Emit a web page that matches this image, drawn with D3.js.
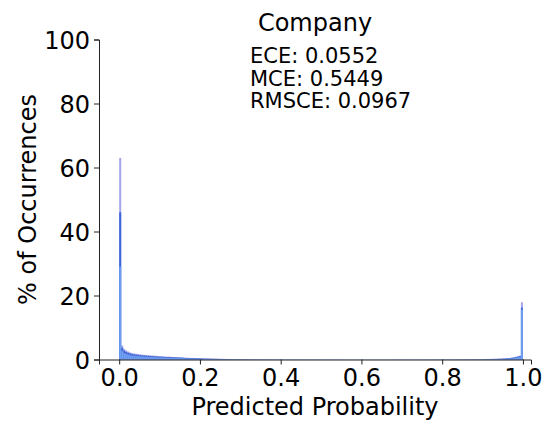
<!DOCTYPE html>
<html>
<head>
<meta charset="utf-8">
<script src="https://cdn.jsdelivr.net/npm/d3@7"></script>
<style>
  body { margin: 0; background: #fff; }
  svg { font-family: "DejaVu Sans", sans-serif; }
</style>
</head>
<body>
<div id="chart"></div>
<script>
const width = 552, height = 423;

// histogram of predicted probabilities, 200 bins of width 0.005 (% of occurrences)
const binWidth = 0.005;
const allCounts = [
  63, 4.4, 3.3, 2.8, 2.5, 2.2, 2.0, 1.9, 1.8, 1.7,
  1.6, 1.5, 1.45, 1.4, 1.35, 1.3, 1.25, 1.2, 1.15, 1.1,
  1.05, 1.0, 0.95, 0.9, 0.9, 0.85, 0.8, 0.8, 0.75, 0.7,
  0.7, 0.65, 0.6, 0.55, 0.55, 0.5, 0.5, 0.45, 0.45, 0.4,
  0.35, 0.35, 0.3, 0.3, 0.3, 0.28, 0.26, 0.25, 0.24, 0.22,
  0.2, 0.2, 0.19, 0.18, 0.17, 0.16, 0.16, 0.15, 0.14, 0.14,
  0.13, 0.13, 0.12, 0.12, 0.12, 0.11, 0.11, 0.1, 0.1, 0.1,
  0.1, 0.1, 0.09, 0.09, 0.09, 0.09, 0.08, 0.08, 0.08, 0.08,
  0.08, 0.08, 0.07, 0.07, 0.07, 0.07, 0.07, 0.07, 0.07, 0.07,
  0.07, 0.06, 0.06, 0.06, 0.06, 0.06, 0.06, 0.06, 0.06, 0.06,
  0.06, 0.06, 0.06, 0.05, 0.05, 0.05, 0.05, 0.05, 0.05, 0.05,
  0.05, 0.05, 0.05, 0.05, 0.05, 0.05, 0.05, 0.05, 0.05, 0.05,
  0.05, 0.05, 0.05, 0.05, 0.05, 0.05, 0.05, 0.05, 0.05, 0.05,
  0.05, 0.05, 0.05, 0.05, 0.05, 0.06, 0.06, 0.06, 0.06, 0.06,
  0.06, 0.06, 0.06, 0.06, 0.06, 0.06, 0.06, 0.06, 0.06, 0.06,
  0.06, 0.06, 0.07, 0.07, 0.07, 0.07, 0.07, 0.07, 0.07, 0.07,
  0.08, 0.08, 0.08, 0.08, 0.08, 0.08, 0.09, 0.09, 0.09, 0.09,
  0.1, 0.1, 0.1, 0.11, 0.11, 0.12, 0.12, 0.13, 0.13, 0.14,
  0.15, 0.16, 0.17, 0.18, 0.19, 0.2, 0.22, 0.24, 0.26, 0.28,
  0.32, 0.36, 0.42, 0.5, 0.6, 0.7, 0.85, 1.0, 1.2, 17.9
];
const darkCounts = [
  46, 3.7, 2.8, 2.4, 2.1, 1.9, 1.7, 1.6, 1.5, 1.45,
  1.35, 1.3, 1.25, 1.2, 1.15, 1.1, 1.05, 1.0, 0.98, 0.94,
  0.9, 0.85, 0.8, 0.78, 0.76, 0.72, 0.7, 0.68, 0.64, 0.6,
  0.6, 0.55, 0.5, 0.48, 0.46, 0.43, 0.42, 0.39, 0.38, 0.34,
  0.3, 0.3, 0.26, 0.26, 0.25, 0.24, 0.22, 0.21, 0.2, 0.19,
  0.17, 0.17, 0.16, 0.15, 0.14, 0.14, 0.13, 0.13, 0.12, 0.12,
  0.11, 0.11, 0.1, 0.1, 0.1, 0.09, 0.09, 0.09, 0.08, 0.08,
  0.08, 0.08, 0.08, 0.07, 0.07, 0.07, 0.07, 0.07, 0.07, 0.07,
  0.06, 0.06, 0.06, 0.06, 0.06, 0.06, 0.06, 0.06, 0.06, 0.06,
  0.06, 0.05, 0.05, 0.05, 0.05, 0.05, 0.05, 0.05, 0.05, 0.05,
  0.05, 0.05, 0.05, 0.05, 0.05, 0.05, 0.05, 0.05, 0.05, 0.05,
  0.04, 0.04, 0.04, 0.04, 0.04, 0.04, 0.04, 0.04, 0.04, 0.04,
  0.04, 0.04, 0.04, 0.04, 0.04, 0.04, 0.04, 0.04, 0.04, 0.04,
  0.04, 0.04, 0.04, 0.04, 0.04, 0.05, 0.05, 0.05, 0.05, 0.05,
  0.05, 0.05, 0.05, 0.05, 0.05, 0.05, 0.05, 0.05, 0.05, 0.05,
  0.05, 0.05, 0.06, 0.06, 0.06, 0.06, 0.06, 0.06, 0.06, 0.06,
  0.07, 0.07, 0.07, 0.07, 0.07, 0.07, 0.08, 0.08, 0.08, 0.08,
  0.09, 0.09, 0.09, 0.1, 0.1, 0.1, 0.1, 0.11, 0.11, 0.12,
  0.13, 0.14, 0.15, 0.16, 0.17, 0.18, 0.19, 0.21, 0.23, 0.25,
  0.28, 0.32, 0.37, 0.44, 0.52, 0.62, 0.75, 0.9, 1.1, 16.2
];
const lightCounts = [
  29, 2.6, 2.0, 1.7, 1.5, 1.3, 1.2, 1.1, 1.05, 1.0,
  0.95, 0.9, 0.88, 0.84, 0.8, 0.77, 0.74, 0.7, 0.68, 0.66,
  0.63, 0.6, 0.57, 0.55, 0.53, 0.5, 0.49, 0.47, 0.45, 0.42,
  0.42, 0.39, 0.36, 0.34, 0.32, 0.3, 0.29, 0.27, 0.26, 0.24,
  0.21, 0.21, 0.18, 0.18, 0.17, 0.16, 0.15, 0.15, 0.14, 0.13,
  0.12, 0.12, 0.11, 0.1, 0.1, 0.1, 0.09, 0.09, 0.08, 0.08,
  0.08, 0.08, 0.07, 0.07, 0.07, 0.06, 0.06, 0.06, 0.06, 0.06,
  0.06, 0.06, 0.06, 0.05, 0.05, 0.05, 0.05, 0.05, 0.05, 0.05,
  0.04, 0.04, 0.04, 0.04, 0.04, 0.04, 0.04, 0.04, 0.04, 0.04,
  0.04, 0.04, 0.04, 0.04, 0.04, 0.04, 0.04, 0.04, 0.04, 0.04,
  0.04, 0.04, 0.04, 0.04, 0.04, 0.04, 0.04, 0.04, 0.04, 0.04,
  0.03, 0.03, 0.03, 0.03, 0.03, 0.03, 0.03, 0.03, 0.03, 0.03,
  0.03, 0.03, 0.03, 0.03, 0.03, 0.03, 0.03, 0.03, 0.03, 0.03,
  0.03, 0.03, 0.03, 0.03, 0.03, 0.03, 0.03, 0.03, 0.03, 0.03,
  0.03, 0.03, 0.03, 0.03, 0.03, 0.03, 0.03, 0.03, 0.03, 0.03,
  0.03, 0.03, 0.04, 0.04, 0.04, 0.04, 0.04, 0.04, 0.04, 0.04,
  0.04, 0.04, 0.05, 0.05, 0.05, 0.05, 0.05, 0.05, 0.05, 0.05,
  0.06, 0.06, 0.06, 0.06, 0.07, 0.07, 0.07, 0.07, 0.08, 0.08,
  0.09, 0.09, 0.1, 0.1, 0.11, 0.12, 0.13, 0.14, 0.15, 0.17,
  0.19, 0.22, 0.26, 0.31, 0.37, 0.45, 0.55, 0.68, 0.85, 15.6
];

const xTicks = [0, 0.2, 0.4, 0.6, 0.8, 1.0];
const yTicks = [0, 20, 40, 60, 80, 100];
const title = "Company";
const stats = ["ECE: 0.0552", "MCE: 0.5449", "RMSCE: 0.0967"];

const x = d3.scaleLinear().domain([-0.05, 1.02]).range([99, 531]);
const y = d3.scaleLinear().domain([0, 100]).range([359.5, 39.5]);

const svg = d3.select("#chart").append("svg")
  .attr("width", width)
  .attr("height", height);

// bars, tallest layer first
const layers = [
  { values: allCounts, color: "#a5a6ea" },
  { values: darkCounts, color: "#3e66d8" },
  { values: lightCounts, color: "#6e9ef0" }
];
layers.forEach(layer => {
  svg.append("g")
    .selectAll("rect")
    .data(layer.values)
    .join("rect")
    .attr("x", (d, i) => x(i * binWidth))
    .attr("width", (d, i) => x((i + 1) * binWidth) - x(i * binWidth))
    .attr("y", d => y(d))
    .attr("height", d => y(0) - y(d))
    .attr("fill", layer.color);
});

// axes
const xAxis = svg.append("g")
  .attr("transform", `translate(0,${y(0)})`)
  .call(d3.axisBottom(x).tickValues(xTicks).tickFormat(d3.format(".1f")).tickSizeOuter(0).tickSize(5).tickPadding(4));
const yAxis = svg.append("g")
  .attr("transform", `translate(${x(-0.05)},0)`)
  .call(d3.axisLeft(y).tickValues(yTicks).tickSizeOuter(0).tickSize(5).tickPadding(4));

[xAxis, yAxis].forEach(a => {
  a.select(".domain").attr("stroke", "#222").attr("stroke-width", 1);
  a.selectAll(".tick line").attr("stroke", "#222").attr("stroke-width", 1);
  a.selectAll(".tick text")
    .attr("fill", "#000")
    .style("font-size", "24px")
    .style("font-family", "DejaVu Sans");
});
xAxis.selectAll(".tick text").attr("y", 9).attr("dy", "0.72em");
yAxis.selectAll(".tick text").attr("dy", "0.36em");

// labels
svg.append("text")
  .attr("x", (x.range()[0] + x.range()[1]) / 2)
  .attr("y", 415)
  .attr("text-anchor", "middle")
  .style("font-size", "24px")
  .text("Predicted Probability");

svg.append("text")
  .attr("transform", `translate(36,${(y(0) + y(100)) / 2}) rotate(-90)`)
  .attr("text-anchor", "middle")
  .style("font-size", "24px")
  .text("% of Occurrences");

svg.append("text")
  .attr("x", (x.range()[0] + x.range()[1]) / 2)
  .attr("y", 31)
  .attr("text-anchor", "middle")
  .style("font-size", "24px")
  .text(title);

svg.append("g")
  .selectAll("text")
  .data(stats)
  .join("text")
  .attr("x", 250)
  .attr("y", (d, i) => 63 + i * 22.5)
  .style("font-size", "21px")
  .text(d => d);
</script>
</body>
</html>
